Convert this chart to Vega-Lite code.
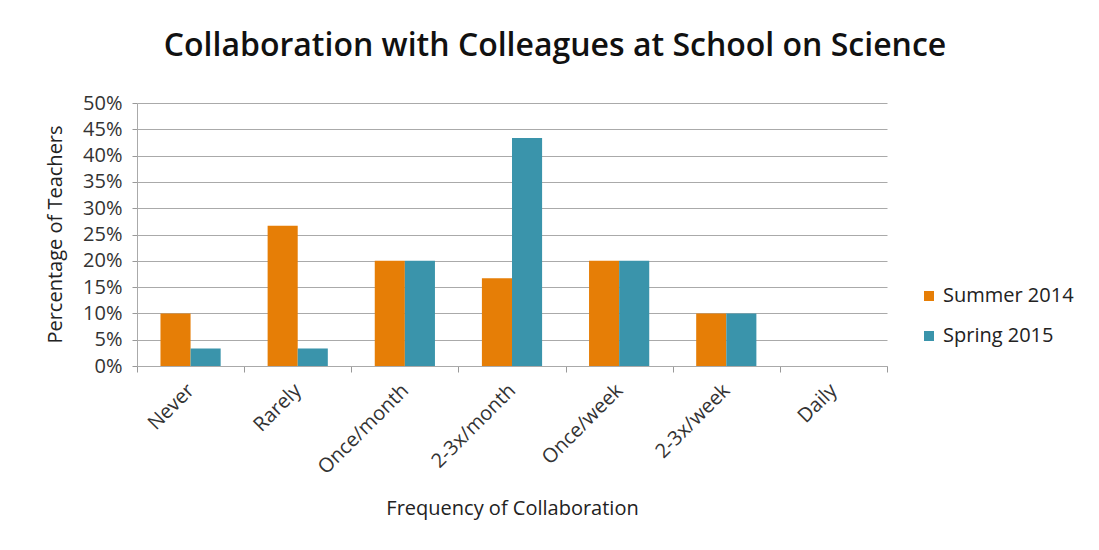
{
  "$schema": "https://vega.github.io/schema/vega-lite/v6.json",
  "width": 750,
  "height": 263,
  "autosize": "none",
  "padding": {"left": 137, "top": 103, "right": 212, "bottom": 184},
  "background": "white",
  "title": {
    "text": "Collaboration with Colleagues at School on Science",
    "fontSize": 32,
    "font": "Open Sans",
    "fontWeight": 600,
    "color": "#111111",
    "anchor": "middle",
    "dx": 43,
    "offset": 30
  },
  "data": {
    "values": [
      {"freq": "Never", "period": "Summer 2014", "value": 0.1},
      {"freq": "Never", "period": "Spring 2015", "value": 0.0333},
      {"freq": "Rarely", "period": "Summer 2014", "value": 0.2667},
      {"freq": "Rarely", "period": "Spring 2015", "value": 0.0333},
      {"freq": "Once/month", "period": "Summer 2014", "value": 0.2},
      {"freq": "Once/month", "period": "Spring 2015", "value": 0.2},
      {"freq": "2-3x/month", "period": "Summer 2014", "value": 0.1667},
      {"freq": "2-3x/month", "period": "Spring 2015", "value": 0.4333},
      {"freq": "Once/week", "period": "Summer 2014", "value": 0.2},
      {"freq": "Once/week", "period": "Spring 2015", "value": 0.2},
      {"freq": "2-3x/week", "period": "Summer 2014", "value": 0.1},
      {"freq": "2-3x/week", "period": "Spring 2015", "value": 0.1},
      {"freq": "Daily", "period": "Summer 2014", "value": 0},
      {"freq": "Daily", "period": "Spring 2015", "value": 0}
    ]
  },
  "mark": {"type": "bar"},
  "encoding": {
    "x": {
      "field": "freq",
      "type": "nominal",
      "sort": ["Never", "Rarely", "Once/month", "2-3x/month", "Once/week", "2-3x/week", "Daily"],
      "scale": {"paddingInner": 0, "paddingOuter": 0},
      "axis": {
        "title": "Frequency of Collaboration",
        "titleFont": "Open Sans",
        "titleFontSize": 20,
        "titleFontWeight": "normal",
        "titleColor": "#222222",
        "titleY": 142,
        "titleBaseline": "middle",
        "labelAngle": -45,
        "labelAlign": "right",
        "labelBaseline": "middle",
        "labelFont": "Open Sans",
        "labelFontSize": 20,
        "labelColor": "#333333",
        "labelPadding": 15,
        "tickBand": "extent",
        "tickColor": "#999999",
        "tickSize": 6,
        "domainColor": "#aaaaaa",
        "grid": false
      }
    },
    "xOffset": {
      "field": "period",
      "type": "nominal",
      "sort": ["Summer 2014", "Spring 2015"],
      "scale": {"paddingInner": 0, "paddingOuter": 0.78}
    },
    "y": {
      "field": "value",
      "type": "quantitative",
      "scale": {"domain": [0, 0.5], "nice": false},
      "axis": {
        "title": "Percentage of Teachers",
        "titleFont": "Open Sans",
        "titleFontSize": 20,
        "titleFontWeight": "normal",
        "titleColor": "#222222",
        "titleX": -82,
        "titleY": 131,
        "titleAlign": "center",
        "titleBaseline": "middle",
        "values": [0, 0.05, 0.1, 0.15, 0.2, 0.25, 0.3, 0.35, 0.4, 0.45, 0.5],
        "format": ".0%",
        "labelFont": "Open Sans",
        "labelFontSize": 20,
        "labelColor": "#333333",
        "labelPadding": 10,
        "tickColor": "#999999",
        "tickSize": 5,
        "domainColor": "#aaaaaa",
        "gridColor": "#aaaaaa",
        "gridWidth": 1
      }
    },
    "color": {
      "field": "period",
      "type": "nominal",
      "sort": ["Summer 2014", "Spring 2015"],
      "scale": {"domain": ["Summer 2014", "Spring 2015"], "range": ["#E67E06", "#3A94AB"]},
      "legend": {
        "title": null,
        "orient": "none",
        "legendX": 782,
        "legendY": 183,
        "symbolType": "square",
        "symbolSize": 100,
        "symbolStrokeWidth": 0,
        "labelFont": "Open Sans",
        "labelFontSize": 20,
        "labelColor": "#222222",
        "rowPadding": 20,
        "labelOffset": 4
      }
    }
  },
  "config": {
    "view": {"stroke": null}
  }
}
